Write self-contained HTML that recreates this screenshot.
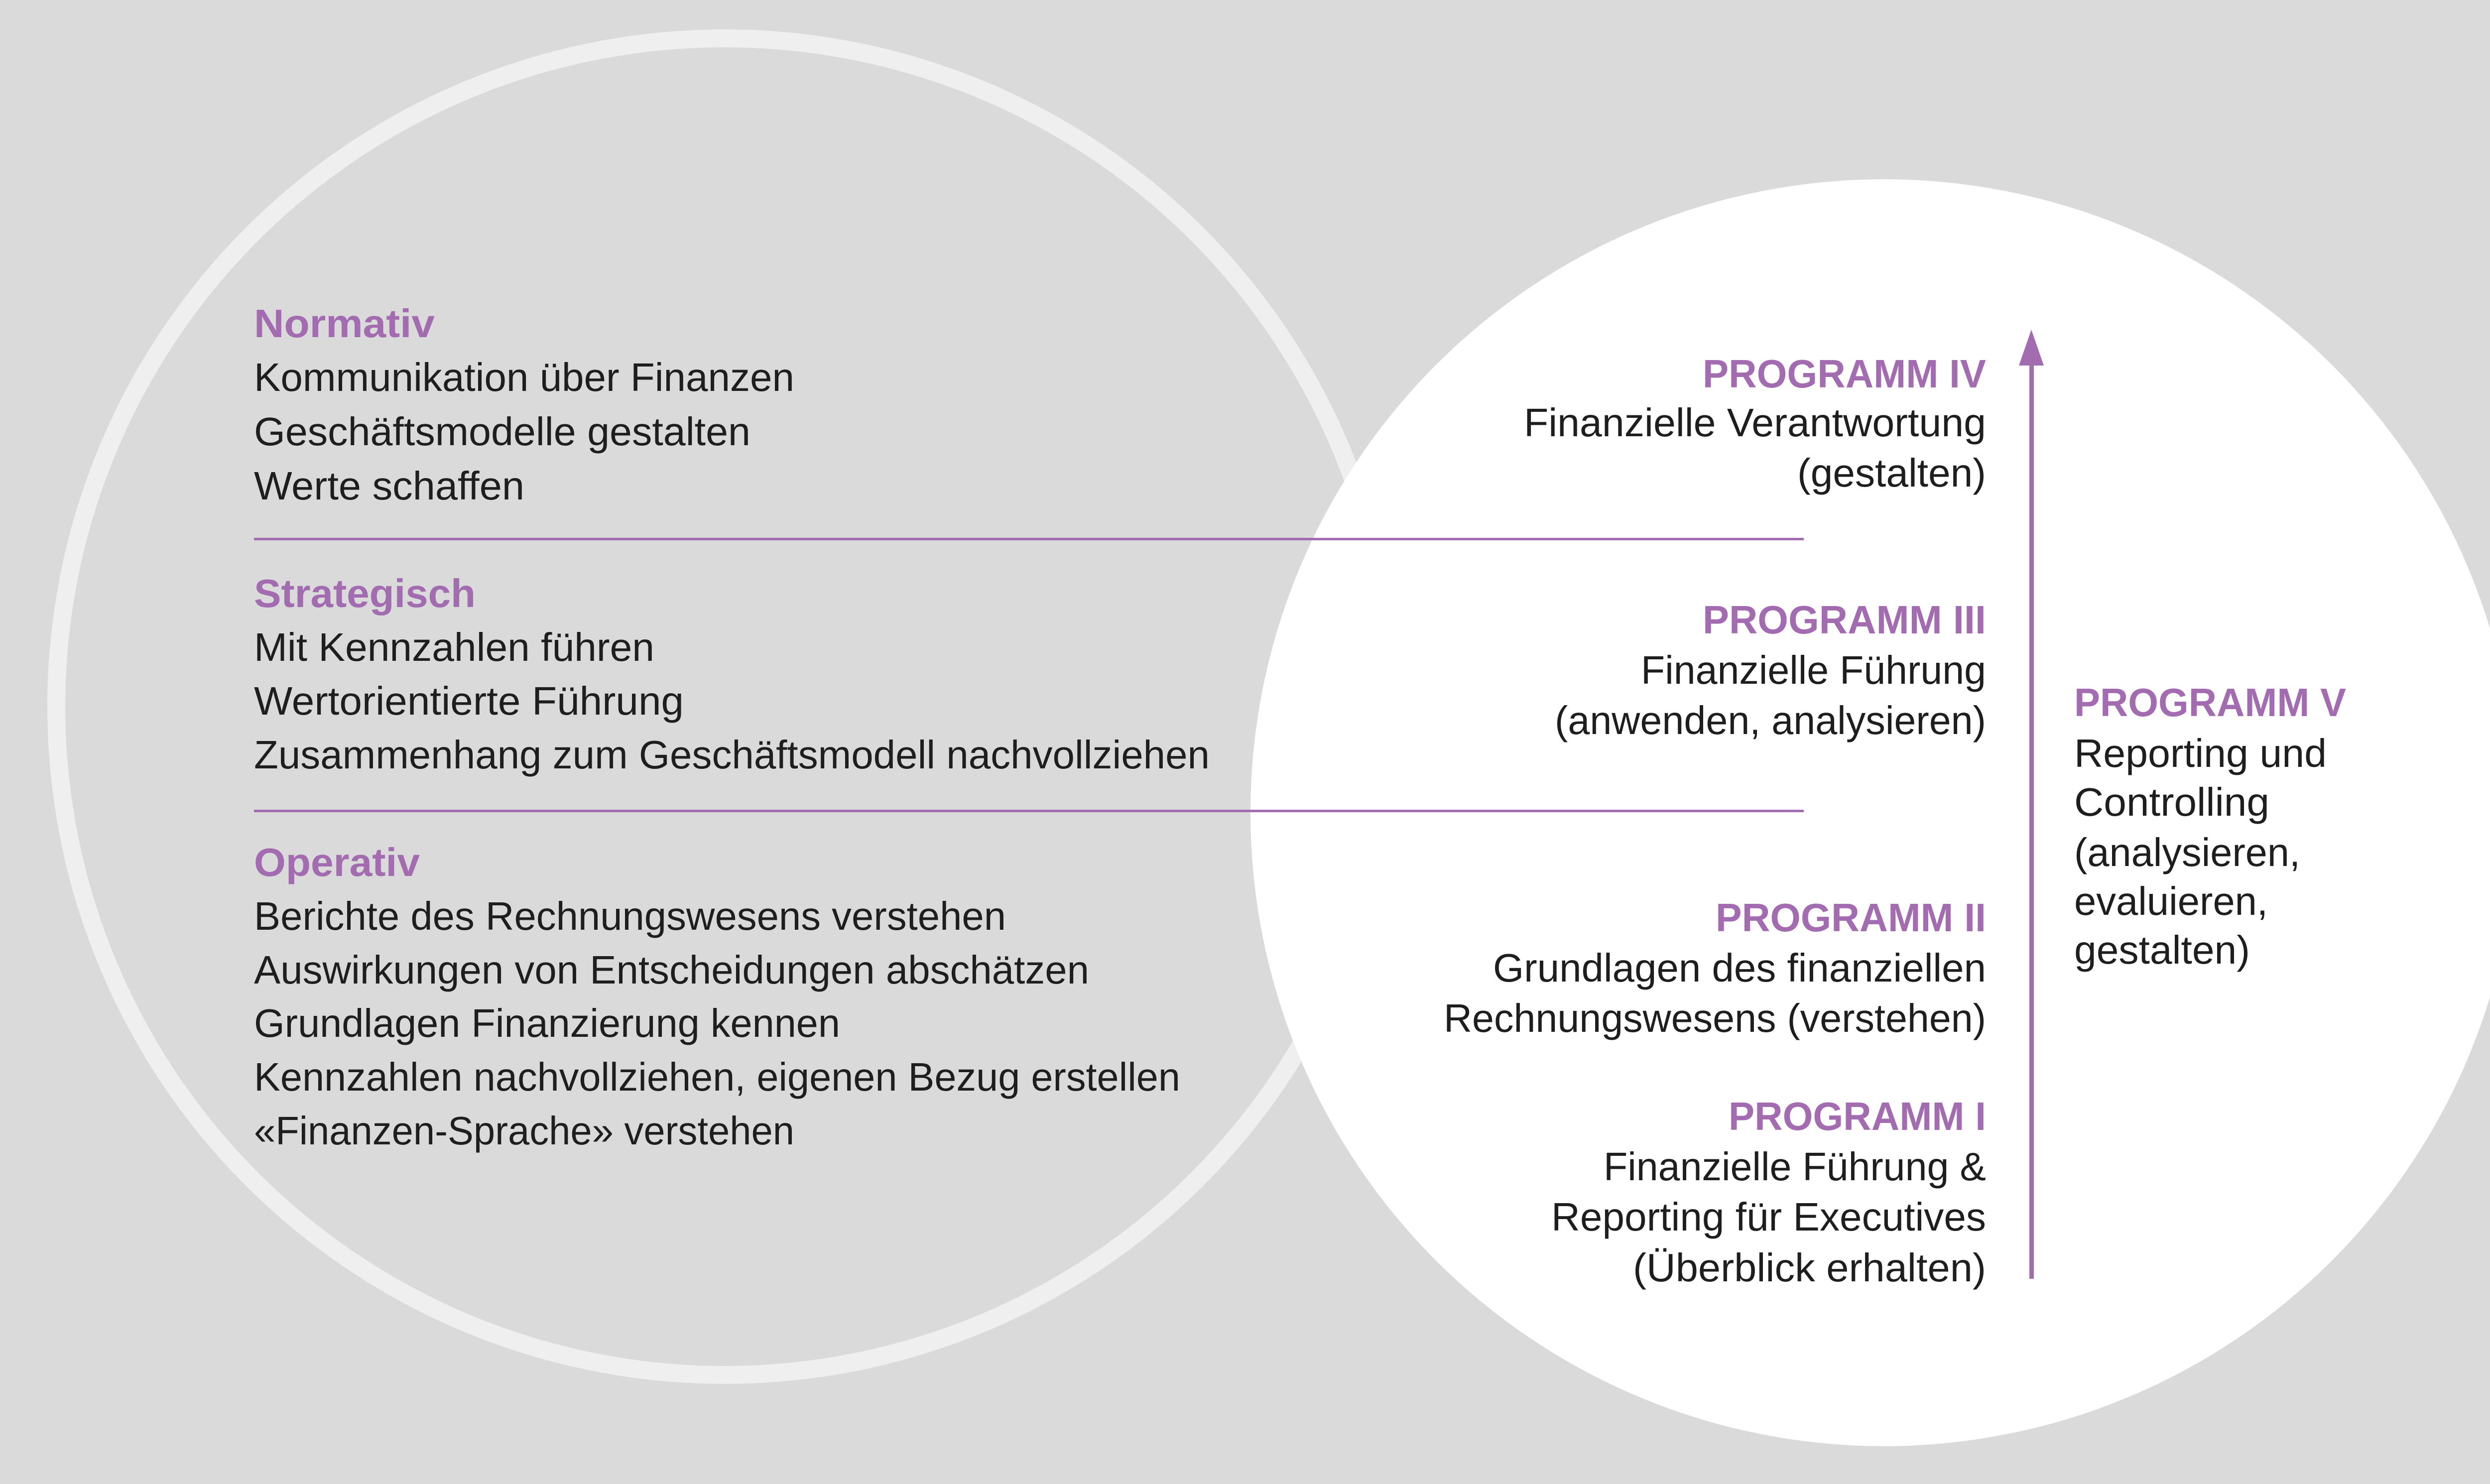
<!DOCTYPE html>
<html><head><meta charset="utf-8"><style>
html,body{margin:0;padding:0;background:#dadada;}
svg{display:block;}
text{font-family:"Liberation Sans",sans-serif;font-size:80px;fill:#1e1e1e;}
.h{fill:#a36bb0;font-weight:bold;}
</style></head><body>
<svg width="5126" height="2980" viewBox="0 0 5126 2980" xmlns="http://www.w3.org/2000/svg">
<rect width="5126" height="2980" fill="#dadada"/>
<circle cx="1455" cy="1419" r="1342" fill="none" stroke="#efefef" stroke-width="36"/>
<circle cx="3783" cy="1632" r="1272" fill="#ffffff"/>
<rect x="510" y="1080" width="3112" height="5" fill="#a36bb0"/>
<rect x="510" y="1626" width="3112" height="5" fill="#a36bb0"/>
<rect x="4075" y="725" width="9" height="1843" fill="#a36bb0"/>
<polygon points="4079,662 4054,734 4104,734" fill="#a36bb0"/>
<g lengthAdjust="spacingAndGlyphs">
<text class="h" x="510" y="677" textLength="363" lengthAdjust="spacingAndGlyphs">Normativ</text>
<text x="510" y="785" textLength="1085" lengthAdjust="spacingAndGlyphs">Kommunikation über Finanzen</text>
<text x="510" y="894" textLength="997" lengthAdjust="spacingAndGlyphs">Geschäftsmodelle gestalten</text>
<text x="510" y="1003" textLength="543" lengthAdjust="spacingAndGlyphs">Werte schaffen</text>
<text class="h" x="510" y="1219" textLength="445" lengthAdjust="spacingAndGlyphs">Strategisch</text>
<text x="510" y="1327" textLength="804" lengthAdjust="spacingAndGlyphs">Mit Kennzahlen führen</text>
<text x="510" y="1435" textLength="863" lengthAdjust="spacingAndGlyphs">Wertorientierte Führung</text>
<text x="510" y="1543" textLength="1919" lengthAdjust="spacingAndGlyphs">Zusammenhang zum Geschäftsmodell nachvollziehen</text>
<text class="h" x="510" y="1759" textLength="333" lengthAdjust="spacingAndGlyphs">Operativ</text>
<text x="510" y="1867" textLength="1510" lengthAdjust="spacingAndGlyphs">Berichte des Rechnungswesens verstehen</text>
<text x="510" y="1975" textLength="1677" lengthAdjust="spacingAndGlyphs">Auswirkungen von Entscheidungen abschätzen</text>
<text x="510" y="2082" textLength="1177" lengthAdjust="spacingAndGlyphs">Grundlagen Finanzierung kennen</text>
<text x="510" y="2190" textLength="1860" lengthAdjust="spacingAndGlyphs">Kennzahlen nachvollziehen, eigenen Bezug erstellen</text>
<text x="510" y="2298" textLength="1085" lengthAdjust="spacingAndGlyphs">«Finanzen-Sprache» verstehen</text>

<text class="h" x="3419" y="778" textLength="569" lengthAdjust="spacingAndGlyphs">PROGRAMM IV</text>
<text x="3060" y="876" textLength="928" lengthAdjust="spacingAndGlyphs">Finanzielle Verantwortung</text>
<text x="3609" y="977" textLength="379" lengthAdjust="spacingAndGlyphs">(gestalten)</text>
<text class="h" x="3419" y="1272" textLength="569" lengthAdjust="spacingAndGlyphs">PROGRAMM III</text>
<text x="3295" y="1373" textLength="693" lengthAdjust="spacingAndGlyphs">Finanzielle Führung</text>
<text x="3122" y="1474" textLength="866" lengthAdjust="spacingAndGlyphs">(anwenden, analysieren)</text>
<text class="h" x="3445" y="1870" textLength="543" lengthAdjust="spacingAndGlyphs">PROGRAMM II</text>
<text x="2998" y="1971" textLength="990" lengthAdjust="spacingAndGlyphs">Grundlagen des finanziellen</text>
<text x="2899" y="2072" textLength="1089" lengthAdjust="spacingAndGlyphs">Rechnungswesens (verstehen)</text>
<text class="h" x="3471" y="2269" textLength="517" lengthAdjust="spacingAndGlyphs">PROGRAMM I</text>
<text x="3220" y="2370" textLength="768" lengthAdjust="spacingAndGlyphs">Finanzielle Führung &amp;</text>
<text x="3115" y="2471" textLength="873" lengthAdjust="spacingAndGlyphs">Reporting für Executives</text>
<text x="3279" y="2573" textLength="709" lengthAdjust="spacingAndGlyphs">(Überblick erhalten)</text>

<text class="h" x="4165" y="1438" textLength="546" lengthAdjust="spacingAndGlyphs">PROGRAMM V</text>
<text x="4165" y="1540" textLength="507" lengthAdjust="spacingAndGlyphs">Reporting und</text>
<text x="4165" y="1638" textLength="392" lengthAdjust="spacingAndGlyphs">Controlling</text>
<text x="4165" y="1739" textLength="454" lengthAdjust="spacingAndGlyphs">(analysieren,</text>
<text x="4165" y="1837" textLength="389" lengthAdjust="spacingAndGlyphs">evaluieren,</text>
<text x="4165" y="1935" textLength="353" lengthAdjust="spacingAndGlyphs">gestalten)</text>
</g>
</svg>
</body></html>
